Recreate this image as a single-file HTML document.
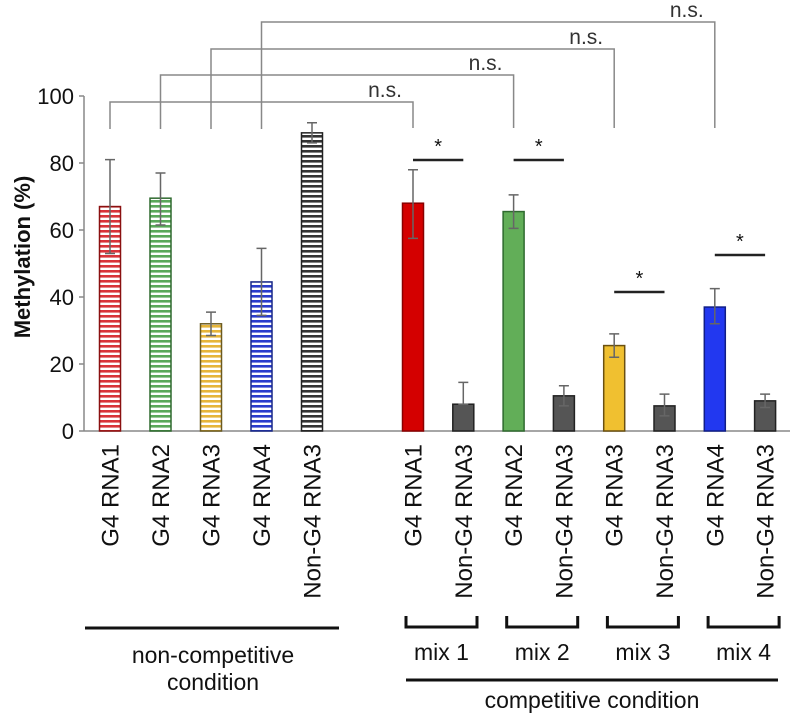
<!DOCTYPE html>
<html><head><meta charset="utf-8"><style>
html,body{margin:0;padding:0;background:#fff;}
svg{display:block;font-family:"Liberation Sans",Arial,sans-serif;}
</style></head><body>
<svg id="chart" width="795" height="719" viewBox="0 0 795 719" xmlns="http://www.w3.org/2000/svg">
<defs>
<pattern id="h-red" width="6" height="5" patternUnits="userSpaceOnUse"><rect width="6" height="5" fill="#fff"/><rect width="6" height="2.6" fill="#d8343a"/></pattern>
<pattern id="h-green" width="6" height="5" patternUnits="userSpaceOnUse"><rect width="6" height="5" fill="#fff"/><rect width="6" height="2.6" fill="#5aa85a"/></pattern>
<pattern id="h-yellow" width="6" height="5" patternUnits="userSpaceOnUse"><rect width="6" height="5" fill="#fff"/><rect width="6" height="2.6" fill="#e6b53a"/></pattern>
<pattern id="h-blue" width="6" height="5" patternUnits="userSpaceOnUse"><rect width="6" height="5" fill="#fff"/><rect width="6" height="2.6" fill="#2a3ccc"/></pattern>
<pattern id="h-black" width="6" height="5" patternUnits="userSpaceOnUse"><rect width="6" height="5" fill="#fff"/><rect width="6" height="2.6" fill="#333"/></pattern>
</defs>
</svg>
<script>
const categories = ["G4 RNA1","G4 RNA2","G4 RNA3","G4 RNA4","Non-G4 RNA3","G4 RNA1","Non-G4 RNA3","G4 RNA2","Non-G4 RNA3","G4 RNA3","Non-G4 RNA3","G4 RNA4","Non-G4 RNA3"];
const values = [67,69.5,32,44.5,89,68,8,65.5,10.5,25.5,7.5,37,9];
const errLow = [53,61.5,28.5,34.5,86,57.5,8,60.5,7.5,22,4.5,32,7];
const errHigh = [81,77,35.5,54.5,92,78,14.5,70.5,13.5,29,11,42.5,11];
const yTicks = [0,20,40,60,80,100];
const slots = [0,1,2,3,4,6,7,8,9,10,11,12,13];

const fills = ["url(#h-red)","url(#h-green)","url(#h-yellow)","url(#h-blue)","url(#h-black)","#d40000","#555","#62ae58","#555","#f0c030","#555","#2238f0","#555"];
const strokes = ["#8a1010","#2f6a2f","#6b5a20","#1a2a88","#222","#8a0000","#222","#2f6a2f","#222","#6b5010","#222","#101e88","#222"];

const svg = document.getElementById('chart');
const NS = "http://www.w3.org/2000/svg";
const x0 = 84, y0 = 431, pxPerUnit = 3.35;
function yScale(v){ return y0 - v*pxPerUnit; }
function xScale(s){ return s<5 ? 110 + s*50.5 : 413 + (s-6)*50.3; }
function mk(tag, attrs){ const e=document.createElementNS(NS,tag); for(const k in attrs) e.setAttribute(k,attrs[k]); svg.appendChild(e); return e; }

let ax = mk('line',{x1:x0,y1:yScale(100),x2:x0,y2:y0,stroke:'#888','stroke-width':1.5});


let xa = mk('line',{x1:x0,y1:y0,x2:790,y2:y0,stroke:'#888','stroke-width':1.5});


yTicks.forEach(t=>{
  let tk = mk('line',{x1:x0-5,y1:yScale(t),x2:x0,y2:yScale(t),stroke:'#888','stroke-width':1.5});
  
  
  let tl = mk('text',{x:74,y:yScale(t)+8,'text-anchor':'end','font-size':22,fill:'#111'});
  tl.textContent = t;
  
  
});
let yt = mk('text',{x:0,y:0,transform:'translate(30,257) rotate(-90)','text-anchor':'middle','font-size':22,'font-weight':'bold',fill:'#111'});
yt.textContent = 'Methylation (%)';



const bw = 21;
values.forEach((v,i)=>{
  const cx = xScale(slots[i]);
  let b = mk('rect',{x:cx-bw/2,y:yScale(v),width:bw,height:y0-yScale(v),fill:fills[i],stroke:strokes[i],'stroke-width':1.5});
  
  
  let e = mk('path',{d:`M${cx} ${yScale(errLow[i])}V${yScale(errHigh[i])}M${cx-5} ${yScale(errHigh[i])}H${cx+5}M${cx-5} ${yScale(errLow[i])}H${cx+5}`,stroke:'#666','stroke-width':1.5,fill:'none'});
  
  
  let t = mk('text',{x:0,y:0,transform:`translate(${cx+8.5},444) rotate(-90)`,'text-anchor':'end','font-size':24,fill:'#111'});
  t.textContent = categories[i];
  
  
});

const brY = [102,75,49,22];
const brFrom = [0,1,2,3], brTo = [6,8,10,12];
brY.forEach((yy,k)=>{
  const a = xScale(brFrom[k]), b = xScale(brTo[k]);
  let p = mk('path',{d:`M${a} 129V${yy}H${b}V128`,stroke:'#888','stroke-width':1.5,fill:'none'});
  
  
  let t = mk('text',{x:b-28,y:yy-5,'text-anchor':'middle','font-size':21,fill:'#333'});
  t.textContent='n.s.';
  
  
});
const starY = [160,160,292,255];
[6,8,10,12].forEach((s,k)=>{
  const a = xScale(s), b = xScale(s+1);
  let l = mk('line',{x1:a,y1:starY[k],x2:b,y2:starY[k],stroke:'#222','stroke-width':2.5});
  
  
  let t = mk('text',{x:(a+b)/2,y:starY[k]-7,'text-anchor':'middle','font-size':20,fill:'#111'});
  t.textContent='*';
  
  
});
let g1 = mk('line',{x1:85,y1:628,x2:339,y2:628,stroke:'#111','stroke-width':3});


[['non-competitive',663],['condition',690]].forEach(([s,yy])=>{
  let t = mk('text',{x:213,y:yy,'text-anchor':'middle','font-size':23,fill:'#111'});
  t.textContent=s;
  
  
});
[0,1,2,3].forEach(k=>{
  const a = 406 + k*100.7, b = a+71;
  let p = mk('path',{d:`M${a} 616V627H${b}V616`,stroke:'#111','stroke-width':3,fill:'none'});
  
  
  let t = mk('text',{x:(a+b)/2,y:660,'text-anchor':'middle','font-size':23,fill:'#111'});
  t.textContent='mix '+(k+1);
  
  
});
let g2 = mk('line',{x1:406,y1:680,x2:778,y2:680,stroke:'#111','stroke-width':3});


let ct = mk('text',{x:592,y:708,'text-anchor':'middle','font-size':23,fill:'#111'});
ct.textContent='competitive condition';


</script>
</body></html>
